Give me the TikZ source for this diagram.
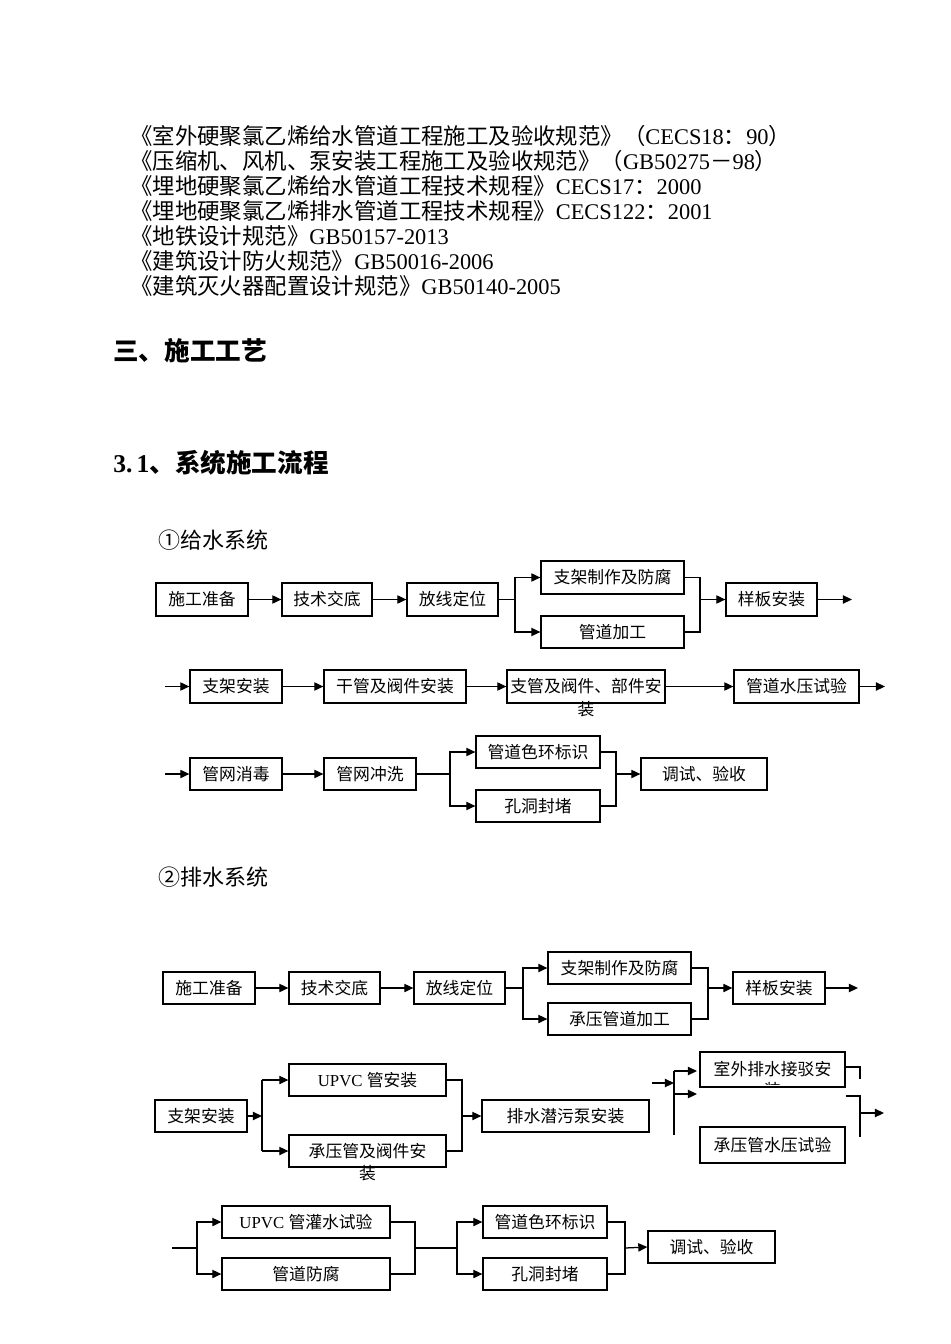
\documentclass[tikz,border=0pt]{standalone}
\usepackage{fontspec}
\setmainfont{Liberation Serif}
\newfontfamily\cjk{Noto Sans CJK SC}
\usetikzlibrary{arrows.meta}
\tikzset{
  box/.style={draw,line width=0.95pt,inner sep=0pt,font={\fontsize{12.6pt}{15pt}\selectfont\cjk}},
  conn/.style={line width=0.95pt},
  arr/.style={conn,-{Triangle[length=6.8pt,width=6.2pt]}},
  reftext/.style={anchor=west,inner sep=0pt,font={\fontsize{16.8pt}{18.75pt}\selectfont\cjk}},
  headtext/.style={anchor=west,inner sep=0pt,font={\fontsize{19.2pt}{22pt}\selectfont\cjk\bfseries}},
  subtext/.style={anchor=west,inner sep=0pt,font={\fontsize{16.5pt}{20pt}\selectfont\cjk}},
  plain/.style={inner sep=0pt,font={\fontsize{12.6pt}{15pt}\selectfont\cjk}},
}
\newcommand\mybox[6]{\node[box,minimum width={(#4-#2)*0.75pt},minimum height={(#5-#3)*0.75pt}] (#1) at ({(#2+#4)/2},{(#3+#5)/2}) {#6};}
\begin{document}
\begin{tikzpicture}[x=0.75pt,y=-0.75pt]
\fill[white] (0,0) rectangle (950,1344);
\useasboundingbox (0,0) rectangle (950,1344);

% references
\node[reftext] (r1) at (130,136) {《室外硬聚氯乙烯给水管道工程施工及验收规范》（{\rmfamily CECS18}：{\rmfamily 90}）};
\node[reftext] (r2) at (130,161) {《压缩机、风机、泵安装工程施工及验收规范》（{\rmfamily GB50275}－{\rmfamily 98}）};
\node[reftext] (r3) at (130,186) {《埋地硬聚氯乙烯给水管道工程技术规程》{\rmfamily CECS17}：{\rmfamily 2000}};
\node[reftext] (r4) at (130,211) {《埋地硬聚氯乙烯排水管道工程技术规程》{\rmfamily CECS122}：{\rmfamily 2001}};
\node[reftext] (r5) at (130,236) {《地铁设计规范》{\rmfamily GB50157-2013}};
\node[reftext] (r6) at (130,261) {《建筑设计防火规范》{\rmfamily GB50016-2006}};
\node[reftext] (r7) at (130,286) {《建筑灭火器配置设计规范》{\rmfamily GB50140-2005}};

\node[headtext] (h1) at (113,351) {三、施工工艺};
\node[headtext] (h2) at (113,463) {{\rmfamily 3.\,1}、系统施工流程};

\node[subtext] (s1) at (158,540) {①给水系统};
\node[subtext] (s2) at (158,877) {②排水系统};

% ===== flow 1 row 1
\mybox{a1}{156}{583}{248}{616}{施工准备}
\mybox{a2}{282}{583}{372}{616}{技术交底}
\mybox{a3}{407}{583}{498}{616}{放线定位}
\mybox{a4}{541}{561}{684}{594}{支架制作及防腐}
\mybox{a5}{541}{616}{684}{648}{管道加工}
\mybox{a6}{726}{583}{817}{616}{样板安装}
\draw[arr] (a1.east) -- (a2.west);
\draw[arr] (a2.east) -- (a3.west);
\coordinate (a3s) at (515,599.5);
\draw[conn] (a3.east) -- (a3s);
\draw[arr] (a3s) |- (a4.west);
\draw[arr] (a3s) |- (a5.west);
\coordinate (a6m) at (700,599.5);
\draw[conn] (a4.east) -| (a6m);
\draw[conn] (a5.east) -| (a6m);
\draw[arr] (a6m) -- (a6.west);
\coordinate (a6e) at (852,599.5);
\draw[arr] (a6.east) -- (a6e);

% ===== flow 1 row 2
\mybox{b1}{190}{670}{282}{703}{支架安装}
\mybox{b2}{324}{670}{466}{703}{干管及阀件安装}
\mybox{b3}{507}{670}{665}{703}{支管及阀件、部件安}
\node[plain] (b3x) at (586,709) {装};
\mybox{b4}{734}{670}{859}{703}{管道水压试验}
\coordinate (b0) at (165,686.5);
\draw[arr] (b0) -- (b1.west);
\draw[arr] (b1.east) -- (b2.west);
\draw[arr] (b2.east) -- (b3.west);
\draw[arr] (b3.east) -- (b4.west);
\coordinate (b4e) at (885,686.5);
\draw[arr] (b4.east) -- (b4e);

% ===== flow 1 row 3
\mybox{c1}{190}{758}{282}{790}{管网消毒}
\mybox{c2}{324}{758}{416}{790}{管网冲洗}
\mybox{c3}{476}{736}{600}{768}{管道色环标识}
\mybox{c4}{476}{790}{600}{822}{孔洞封堵\hspace{21pt}}
\mybox{c5}{641}{758}{767}{790}{调试、验收}
\coordinate (c0) at (165,774);
\draw[arr] (c0) -- (c1.west);
\draw[arr] (c1.east) -- (c2.west);
\coordinate (c2s) at (450,774);
\draw[conn] (c2.east) -- (c2s);
\draw[arr] (c2s) |- (c3.west);
\draw[arr] (c2s) |- (c4.west);
\coordinate (c5m) at (616,774);
\draw[conn] (c3.east) -| (c5m);
\draw[conn] (c4.east) -| (c5m);
\draw[arr] (c5m) -- (c5.west);

% ===== flow 2 row 1
\mybox{d1}{163}{972}{255}{1004}{施工准备}
\mybox{d2}{289}{972}{380}{1004}{技术交底}
\mybox{d3}{414}{972}{505}{1004}{放线定位}
\mybox{d4}{548}{952}{691}{984}{支架制作及防腐}
\mybox{d5}{548}{1003}{691}{1035}{承压管道加工}
\mybox{d6}{733}{972}{825}{1004}{样板安装}
\draw[arr] (d1.east) -- (d2.west);
\draw[arr] (d2.east) -- (d3.west);
\coordinate (d3s) at (523,988);
\draw[conn] (d3.east) -- (d3s);
\draw[arr] (d3s) |- (d4.west);
\draw[arr] (d3s) |- (d5.west);
\coordinate (d6m) at (708,988);
\draw[conn] (d4.east) -| (d6m);
\draw[conn] (d5.east) -| (d6m);
\draw[arr] (d6m) -- (d6.west);
\coordinate (d6e) at (858,988);
\draw[arr] (d6.east) -- (d6e);

% ===== flow 2 row 2
\mybox{e1}{155}{1100}{247}{1132}{支架安装}
\mybox{e2}{289}{1064}{446}{1096}{{\rmfamily UPVC }管安装}
\mybox{e3}{289}{1135}{446}{1167}{承压管及阀件安}
\node[plain] (e3x) at (367.5,1173) {装};
\mybox{e4}{482}{1100}{649}{1132}{排水潜污泵安装}
\mybox{e5}{700}{1052}{845}{1087}{室外排水接驳安}
\begin{scope}
\clip (700,1070) rectangle (845,1084);
\node[plain] (e5x) at (772.5,1090) {装};
\end{scope}
\mybox{e6}{700}{1127}{845}{1163}{承压管水压试验}
\coordinate (e1s) at (262,1116);
\draw[arr] (e1.east) -- (e1s);
\coordinate (e1t) at (262,1080);
\coordinate (e1b) at (262,1151);
\draw[conn] (e1t) -- (e1b);
\draw[arr] (e1t) -- (e2.west);
\draw[arr] (e1b) -- (e3.west);
\coordinate (e23m) at (462,1116);
\draw[conn] (e2.east) -| (e23m);
\draw[conn] (e3.east) -| (e23m);
\draw[arr] (e23m) -- (e4.west);
\coordinate (e4e) at (652,1083);
\coordinate (e5s) at (674,1083);
\draw[arr] (e4e) -- (e5s);
\coordinate (e5t) at (674,1071);
\coordinate (e5b) at (674,1135);
\draw[conn] (e5t) -- (e5b);
\coordinate (e5a1) at (697,1071);
\draw[arr] (e5t) -- (e5a1);
\coordinate (e5m) at (674,1094);
\coordinate (e5a2) at (697,1094);
\draw[arr] (e5m) -- (e5a2);
\coordinate (e7a) at (860,1067);
\coordinate (e7b) at (860,1079);
\draw[conn] (e5.east |- e7a) -- (e7a) -- (e7b);
\coordinate (e7c) at (846,1096);
\coordinate (e7d) at (860,1096);
\coordinate (e7e) at (860,1137);
\draw[conn] (e7c) -- (e7d) -- (e7e);
\coordinate (e7f) at (860,1113);
\coordinate (e7g) at (884,1113);
\draw[arr] (e7f) -- (e7g);

% ===== flow 2 row 3
\mybox{f1}{222}{1206}{390}{1238}{{\rmfamily UPVC }管灌水试验}
\mybox{f2}{222}{1258}{390}{1290}{管道防腐}
\mybox{f3}{483}{1206}{607}{1238}{管道色环标识}
\mybox{f4}{483}{1258}{607}{1290}{孔洞封堵}
\mybox{f5}{648}{1231}{775}{1263}{调试、验收}
\coordinate (f0) at (172,1248);
\coordinate (f0s) at (197,1248);
\draw[conn] (f0) -- (f0s);
\draw[arr] (f0s) |- (f1.west);
\draw[arr] (f0s) |- (f2.west);
\coordinate (f12m) at (415,1248);
\draw[conn] (f1.east) -| (f12m);
\draw[conn] (f2.east) -| (f12m);
\coordinate (f34s) at (457,1248);
\draw[conn] (f12m) -- (f34s);
\draw[arr] (f34s) |- (f3.west);
\draw[arr] (f34s) |- (f4.west);
\coordinate (f5m) at (625,1248);
\draw[conn] (f3.east) -| (f5m);
\draw[conn] (f4.east) -| (f5m);
\draw[arr] (f5m) -- (f5.west);
\end{tikzpicture}
\end{document}
